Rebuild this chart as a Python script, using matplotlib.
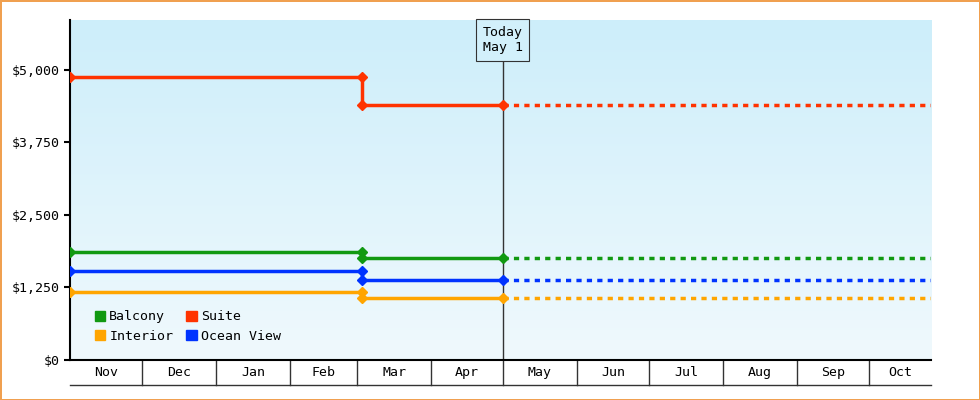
import numpy as np
import matplotlib.pyplot as plt
from matplotlib.patches import Rectangle
from matplotlib.colors import LinearSegmentedColormap

months = ["Nov", "Dec", "Jan", "Feb", "Mar", "Apr", "May", "Jun", "Jul", "Aug", "Sep", "Oct"]
month_starts = np.arange("2022-11", "2023-11", dtype="datetime64[M]").astype("datetime64[D]")
start = np.datetime64("2022-11-01")
change = np.datetime64("2023-03-03")
today = np.datetime64("2023-05-01")
end = np.datetime64("2023-10-27")

series = ["Balcony", "Suite", "Interior", "Ocean View"]
colors = ["#119911", "#ff3300", "#ffa500", "#0033ff"]
before = [1860, 4880, 1170, 1535]
after = [1760, 4400, 1070, 1380]

yticks = [0, 1250, 2500, 3750, 5000]
ymax = 5860

def d(x):
	return (x - start).astype(int)

plt.rcParams['font.family'] = ['DejaVu Sans Mono']
fig = plt.figure(figsize=(9.8, 4.0), dpi=100)
fig.patch.set_edgecolor("#f0a050")
fig.patch.set_linewidth(2)
ax = fig.add_axes([70/980, 40/400, 861/980, 340/400])
x0, x1 = 0, d(end)
ax.set_xlim(x0, x1)
ax.set_ylim(0, ymax)

grad = np.linspace(0, 1, 256).reshape(-1, 1)
cm = LinearSegmentedColormap.from_list("bg", ["#f0f9fd", "#cdeefa"])
ax.imshow(grad, cmap=cm, extent=[x0, x1, 0, ymax], aspect="auto", origin="lower", zorder=0)

for name, c, b, a in zip(series, colors, before, after):
	ax.plot([0, d(change), d(change), d(today)], [b, b, a, a], color=c, lw=2.5, zorder=3)
	ax.plot([d(today), x1], [a, a], color=c, lw=2.5, ls=(0, (1.5, 1.5)), zorder=3)
	ax.plot([0, d(change), d(change), d(today)], [b, b, a, a], ls="none", marker="D", ms=5, color=c, zorder=4)

ax.axvline(d(today), color="#333333", lw=1, zorder=2)
ax.text(d(today), ymax * (1 - 20/340), "Today\nMay 1", ha="center", va="center", fontsize=9.5,
	bbox=dict(boxstyle="square,pad=0.5", fc="#d2f0fb", ec="#333333", lw=0.8), zorder=5)

for s in ["top", "right"]:
	ax.spines[s].set_visible(False)
ax.spines["left"].set_linewidth(1.5)
ax.spines["bottom"].set_linewidth(1.5)
ax.set_yticks(yticks)
ax.set_yticklabels(["${:,}".format(v) for v in yticks], fontsize=9.5)
ax.tick_params(axis="y", length=4, width=1.5)
ax.set_xticks([])

# month boxes below axis
h = ymax * 25 / 340
ms = [d(m) for m in month_starts] + [x1]
for i, m in enumerate(months):
	ax.text((ms[i] + ms[i + 1]) / 2, -h / 2, m, ha="center", va="center", fontsize=9.5, clip_on=False)
	if i > 0:
		ax.plot([ms[i], ms[i]], [0, -h], color="#333333", lw=1, clip_on=False)
ax.plot([x0, x1], [-h, -h], color="#333333", lw=1, clip_on=False)

order = [0, 2, 1, 3]
handles = [Rectangle((0, 0), 1, 1, color=colors[i]) for i in order]
ax.legend(handles, [series[i] for i in order], loc="lower left", ncol=2, frameon=False, fontsize=9.5,
	handlelength=0.8, handleheight=0.8, handletextpad=0.3, columnspacing=1.0,
	labelspacing=0.5, bbox_to_anchor=(0.015, 0.015))

fig.savefig("out.png", dpi=100, edgecolor=fig.get_edgecolor())
